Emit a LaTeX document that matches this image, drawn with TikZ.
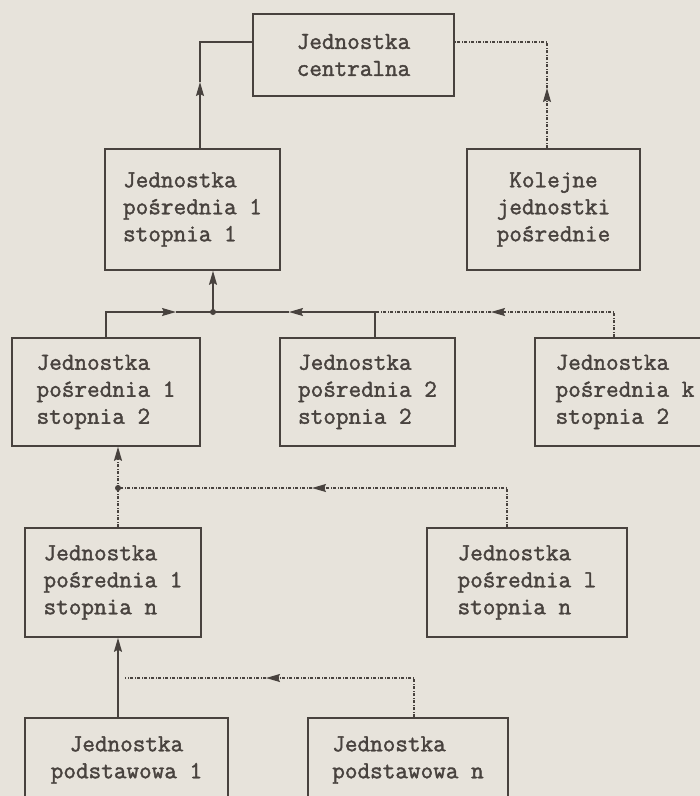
\documentclass[tikz,border=0pt]{standalone}
\usepackage{fontspec}
\newfontfamily\unitfont{Latin Modern Mono}[FakeBold=1.6]
\usetikzlibrary{arrows.meta}
\definecolor{ink}{RGB}{72,66,62}
\definecolor{paper}{RGB}{231,227,219}

\begin{document}
\begin{tikzpicture}[x=1pt,y=-1pt,
	unit_node/.style={draw=ink,line width=1.6pt,text=ink,font=\unitfont\fontsize{24.5}{27}\selectfont,inner sep=0pt,align=left},
	solid_line/.style={draw=ink,line width=1.5pt},
	dot_line/.style={draw=ink,line width=1.4pt,dash pattern=on 3pt off 1.5pt on 1pt off 1.5pt},
	arrow_tip/.style={-{Stealth[length=14pt,width=8pt,inset=2pt]}},
	joint/.style={circle,fill=ink,inner sep=0pt,minimum size=6pt}]
		
		\fill[paper] (0,0) rectangle (700,796);
		\clip (0,0) rectangle (700,796);
		
		\node[unit_node,align=center,minimum width=201,minimum height=82] (c) at (353.5,55) {Jednostka\\centralna};
		\node[unit_node,minimum width=175,minimum height=121] (p11) at (192.5,209.5) {Jednostka\\pośrednia 1\\stopnia 1};
		\node[unit_node,align=center,minimum width=173,minimum height=121] (kol) at (553.5,209.5) {Kolejne\\jednostki\\pośrednie};
		\node[unit_node,minimum width=188,minimum height=108] (p12) at (106,392) {Jednostka\\pośrednia 1\\stopnia 2};
		\node[unit_node,minimum width=175,minimum height=108] (p22) at (367.5,392) {Jednostka\\pośrednia 2\\stopnia 2};
		\node[unit_node,minimum width=180,minimum height=108] (pk2) at (625,392) {Jednostka\\pośrednia k\\stopnia 2};
		\node[unit_node,minimum width=176,minimum height=109] (pn1) at (113,582.5) {Jednostka\\pośrednia 1\\stopnia n};
		\node[unit_node,minimum width=200,minimum height=109] (pnr) at (527,582.5) {Jednostka\\pośrednia l\\stopnia n};
		\node[unit_node,align=center,minimum width=203,minimum height=84] (b1) at (126.5,760) {Jednostka\\podstawowa 1};
		\node[unit_node,minimum width=200,minimum height=84] (bn) at (408,760) {Jednostka\\podstawowa n};
		
		\coordinate (j1) at (213,312);
		\coordinate (j2) at (118,488);
		\coordinate (a_bend) at (200,42);
		\coordinate (a_tip) at (200,82);
		\coordinate (b_bend) at (547,42);
		\coordinate (b_tip) at (547,88);
		\coordinate (c_tip1) at (176,312);
		\coordinate (c_bend2) at (375,312);
		\coordinate (c_tip2) at (289,312);
		\coordinate (d_bend) at (614,312);
		\coordinate (d_tip) at (491,312);
		\coordinate (e_bend) at (507,488);
		\coordinate (e_tip) at (312,488);
		\coordinate (g_bend) at (414,678);
		\coordinate (g_tip) at (266,678);
		\coordinate (g_end) at (125,678);
		
		\draw[solid_line,arrow_tip] (p11.north -| a_bend) -- (a_tip);
		\draw[solid_line] (a_tip) -- (a_bend) -- (c.west |- a_bend);
		\draw[dot_line,arrow_tip] (kol.north -| b_bend) -- (b_tip);
		\draw[dot_line] (b_tip) -- (b_bend) -- (c.east |- b_bend);
		
		\draw[solid_line,arrow_tip] (j1) -- (p11.south -| j1);
		\draw[solid_line,arrow_tip] (p12.north) |- (c_tip1);
		\draw[solid_line] (c_tip1) -- (j1);
		\draw[solid_line,arrow_tip] (p22.north -| c_bend2) -- (c_bend2) -- (c_tip2);
		\draw[solid_line] (c_tip2) -- (j1);
		\draw[dot_line,arrow_tip] (pk2.north -| d_bend) -- (d_bend) -- (d_tip);
		\draw[dot_line] (d_tip) -- (c_bend2);
		
		\draw[dot_line,arrow_tip] (j2) -- (p12.south -| j2);
		\draw[dot_line] (pn1.north -| j2) -- (j2);
		\draw[dot_line,arrow_tip] (pnr.north -| e_bend) -- (e_bend) -- (e_tip);
		\draw[dot_line] (e_tip) -- (j2);
		
		\draw[solid_line,arrow_tip] (b1.north -| j2) -- (pn1.south -| j2);
		\draw[dot_line,arrow_tip] (bn.north -| g_bend) -- (g_bend) -- (g_tip);
		\draw[dot_line] (g_tip) -- (g_end);
		
		\node[joint] (j1_dot) at (j1) {};
		\node[joint] (j2_dot) at (j2) {};
		\end{tikzpicture}
\end{document}
